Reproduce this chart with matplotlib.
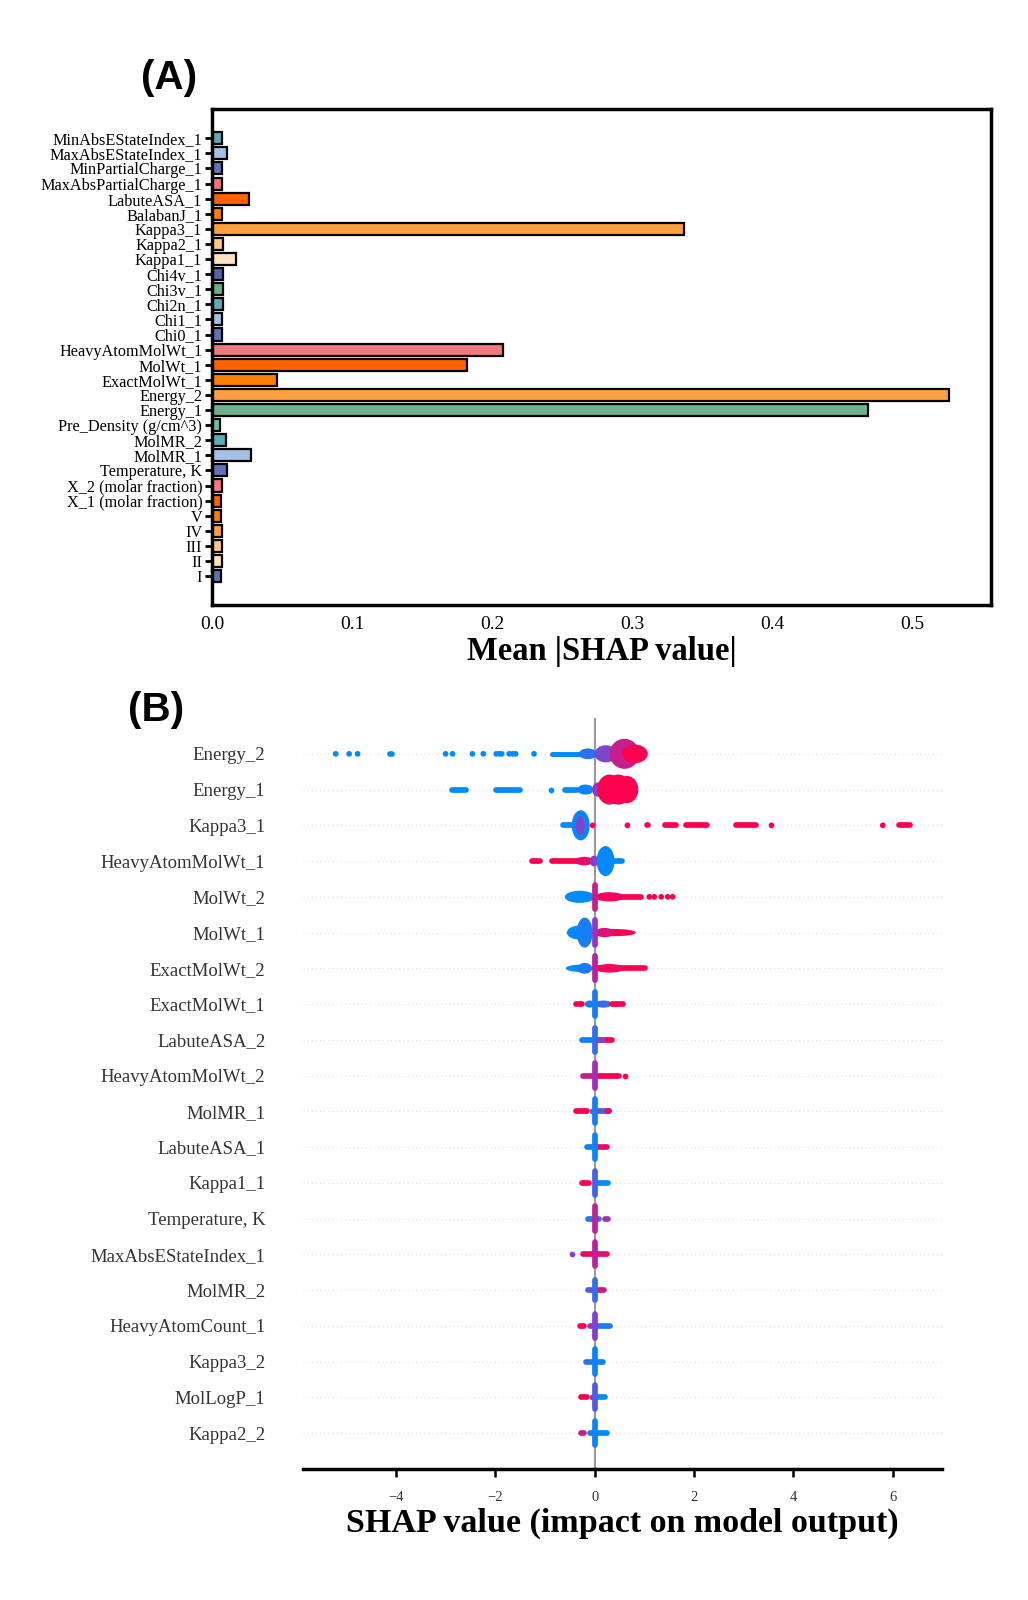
import numpy as np
import matplotlib
matplotlib.use('Agg')
import matplotlib.pyplot as plt
from matplotlib.colors import LinearSegmentedColormap
from matplotlib.patches import Ellipse

plt.rcParams['font.family'] = ['Liberation Serif', 'DejaVu Serif']

# ---- panel A : mean |SHAP| per feature (top to bottom) ----
bar_features = ["MinAbsEStateIndex_1", "MaxAbsEStateIndex_1", "MinPartialCharge_1",
                "MaxAbsPartialCharge_1", "LabuteASA_1", "BalabanJ_1", "Kappa3_1",
                "Kappa2_1", "Kappa1_1", "Chi4v_1", "Chi3v_1", "Chi2n_1", "Chi1_1",
                "Chi0_1", "HeavyAtomMolWt_1", "MolWt_1", "ExactMolWt_1", "Energy_2",
                "Energy_1", "Pre_Density (g/cm^3)", "MolMR_2", "MolMR_1",
                "Temperature, K", "X_2 (molar fraction)", "X_1 (molar fraction)",
                "V", "IV", "III", "II", "I"]
bar_values = [0.0069, 0.011, 0.0069, 0.0073, 0.0266, 0.0069, 0.337, 0.0076, 0.0175,
              0.0076, 0.008, 0.008, 0.0073, 0.0073, 0.2076, 0.1817, 0.0466, 0.526,
              0.468, 0.006, 0.0102, 0.0279, 0.011, 0.0071, 0.0067, 0.0067, 0.0074,
              0.0074, 0.0071, 0.0067]
bar_colors = ["#5eaab8", "#a3c1e3", "#6272b8", "#f07a80", "#ff6200", "#ff8000",
              "#ffa040", "#ffc68c", "#ffe0c0", "#5562aa", "#65b088", "#5eaab8",
              "#a3c1e3", "#6272b8", "#f07a80", "#ff6200", "#ff8000", "#ffa040",
              "#6db38f", "#66c2a5", "#5eaab8", "#a3c1e3", "#6272b8", "#f07a80",
              "#ff6200", "#ff8000", "#ffa040", "#ffc68c", "#ffe0c0", "#6272b8"]

# ---- panel B : beeswarm summary (top to bottom) ----
swarm_features = ["Energy_2", "Energy_1", "Kappa3_1", "HeavyAtomMolWt_1", "MolWt_2",
                  "MolWt_1", "ExactMolWt_2", "ExactMolWt_1", "LabuteASA_2",
                  "HeavyAtomMolWt_2", "MolMR_1", "LabuteASA_1", "Kappa1_1",
                  "Temperature, K", "MaxAbsEStateIndex_1", "MolMR_2",
                  "HeavyAtomCount_1", "Kappa3_2", "MolLogP_1", "Kappa2_2"]

# isolated points: (shap value, feature value 0=low 1=high)
swarm_dots = {
    "Energy_2": [(-5.21, 0), (-4.94, 0), (-4.77, 0), (-3.00, 0), (-2.86, 0), (-2.46, 0),
                 (-2.24, 0), (-1.98, 0), (-1.92, 0), (-1.87, 0), (-1.72, 0), (-1.65, 0),
                 (-1.59, 0), (-1.22, 0)],
    "Energy_1": [(-0.87, 0)],
    "Kappa3_1": [(-0.04, 1), (0.66, 1), (3.56, 1), (5.80, 1)],
    "MolWt_2": [(1.10, 1), (1.20, 1), (1.34, 1), (1.47, 1), (1.57, 1)],
    "HeavyAtomMolWt_2": [(0.61, 1)],
    "MaxAbsEStateIndex_1": [(-0.46, 0.5)],
}
# dense runs: (shap from, shap to, half height in rows, feature value)
swarm_runs = {
    "Energy_2": [(-4.18, -4.03, 0.08, 0), (-0.91, -0.22, 0.07, 0), (-0.32, 0.05, 0.15, 0.15),
                 (0.0, 0.45, 0.24, 0.45), (0.30, 0.90, 0.42, 0.75), (0.55, 1.07, 0.26, 1.0)],
    "Energy_1": [(-2.92, -2.53, 0.08, 0), (-2.05, -1.44, 0.08, 0), (-0.65, -0.30, 0.08, 0),
                 (-0.35, -0.02, 0.14, 0.05), (-0.05, 0.18, 0.2, 0.5), (0.05, 0.55, 0.42, 1.0),
                 (0.20, 0.75, 0.42, 1.0), (0.42, 0.88, 0.38, 1.0)],
    "Kappa3_1": [(-0.70, -0.25, 0.08, 0), (-0.46, -0.10, 0.42, 0.05), (-0.38, -0.20, 0.26, 0.45),
                 (1.0, 1.13, 0.08, 1), (1.35, 1.70, 0.08, 1), (1.79, 2.31, 0.08, 1),
                 (2.79, 3.31, 0.08, 1), (6.06, 6.41, 0.08, 1)],
    "HeavyAtomMolWt_1": [(-1.31, -1.04, 0.08, 1), (-0.91, -0.10, 0.08, 1), (-0.40, -0.02, 0.12, 0.9),
                         (-0.10, 0.08, 0.15, 0.5), (0.05, 0.61, 0.08, 0), (0.04, 0.40, 0.42, 0.02)],
    "MolWt_2": [(-0.60, 0.0, 0.17, 0), (0.0, 1.0, 0.08, 1), (0.0, 0.60, 0.13, 0.95)],
    "MolWt_1": [(-0.56, -0.02, 0.20, 0), (-0.36, -0.04, 0.42, 0.08), (0.0, 0.83, 0.10, 1),
                (0.0, 0.40, 0.13, 0.85)],
    "ExactMolWt_2": [(-0.58, -0.02, 0.10, 0), (-0.35, -0.05, 0.15, 0.1), (0.0, 1.07, 0.08, 1),
                     (0.0, 0.60, 0.12, 0.95)],
    "ExactMolWt_1": [(-0.43, -0.20, 0.08, 1), (-0.20, 0.0, 0.10, 0.1), (0.0, 0.35, 0.10, 0.2),
                     (0.30, 0.63, 0.08, 1)],
    "LabuteASA_2": [(-0.32, 0.0, 0.08, 0.05), (0.0, 0.41, 0.08, 0.95), (0.05, 0.20, 0.08, 0.4)],
    "HeavyAtomMolWt_2": [(-0.30, 0.0, 0.08, 0.75), (0.0, 0.55, 0.08, 1)],
    "MolMR_1": [(-0.43, -0.10, 0.08, 1), (-0.10, 0.0, 0.08, 0.4), (0.0, 0.35, 0.08, 0.3),
                (0.20, 0.35, 0.08, 0.9)],
    "LabuteASA_1": [(-0.22, 0.0, 0.08, 0.05), (0.0, 0.31, 0.08, 0.9)],
    "Kappa1_1": [(-0.32, -0.05, 0.08, 1), (0.0, 0.33, 0.08, 0)],
    "Temperature, K": [(-0.32, -0.20, 0.08, 1), (-0.20, 0.0, 0.08, 0.1), (0.0, 0.15, 0.08, 0.3),
                       (0.15, 0.33, 0.08, 0.6)],
    "MaxAbsEStateIndex_1": [(-0.30, 0.0, 0.08, 0.9), (0.0, 0.31, 0.08, 0.85)],
    "MolMR_2": [(-0.19, 0.0, 0.08, 0.3), (0.0, 0.25, 0.08, 0.8)],
    "HeavyAtomCount_1": [(-0.35, -0.15, 0.08, 1), (-0.15, 0.0, 0.08, 0.5), (0.0, 0.37, 0.08, 0.1)],
    "Kappa3_2": [(-0.23, 0.0, 0.08, 0.15), (0.0, 0.22, 0.08, 0.05)],
    "MolLogP_1": [(-0.33, -0.10, 0.08, 1), (-0.10, 0.0, 0.08, 0.5), (0.0, 0.26, 0.08, 0)],
    "Kappa2_2": [(-0.33, -0.15, 0.08, 0.75), (-0.15, 0.0, 0.08, 0.1), (0.0, 0.31, 0.08, 0)],
}
# vertical stacks: (shap value, half height in rows, feature value)
swarm_stacks = {
    "MolWt_2": [(0.0, 0.42, 0.75)],
    "MolWt_1": [(0.0, 0.42, 0.55)],
    "ExactMolWt_2": [(0.0, 0.42, 0.7)],
    "ExactMolWt_1": [(0.0, 0.42, 0.1)],
    "LabuteASA_2": [(0.0, 0.42, 0.2)],
    "HeavyAtomMolWt_2": [(0.0, 0.42, 0.6)],
    "MolMR_1": [(0.0, 0.42, 0.1)],
    "LabuteASA_1": [(0.0, 0.42, 0.05)],
    "Kappa1_1": [(0.0, 0.42, 0.25)],
    "Temperature, K": [(0.0, 0.42, 0.7)],
    "MaxAbsEStateIndex_1": [(0.0, 0.42, 0.7)],
    "MolMR_2": [(0.0, 0.36, 0.2)],
    "HeavyAtomCount_1": [(0.0, 0.42, 0.45)],
    "Kappa3_2": [(0.0, 0.42, 0.05)],
    "MolLogP_1": [(0.0, 0.42, 0.3)],
    "Kappa2_2": [(0.0, 0.42, 0.05)],
}

shap_cmap = LinearSegmentedColormap.from_list("shap_red_blue", ["#008bfb", "#8c3cc8", "#ff0051"])

def col(v):
    return shap_cmap(float(v))

DPI = 100
fig = plt.figure(figsize=(10.28, 16), dpi=DPI)

# ---------------- (A) bar chart ----------------
axA = fig.add_axes([0.2062, 0.622, 0.964 - 0.2062, 0.9319 - 0.622])
pos = np.arange(len(bar_features))[::-1]
axA.barh(pos, bar_values, height=0.8, color=bar_colors, edgecolor='black', linewidth=1.6)
axA.set_yticks(pos)
axA.set_yticklabels(bar_features, fontsize=11.7)
axA.set_xlim(0, 0.556)
axA.set_ylim(-1.9, 30.94)
axA.set_xticks([0.0, 0.1, 0.2, 0.3, 0.4, 0.5])
axA.set_xticklabels(["0.0", "0.1", "0.2", "0.3", "0.4", "0.5"])
for s in axA.spines.values():
    s.set_linewidth(2.5)
axA.tick_params(axis='y', length=5, width=2, pad=2)
axA.tick_params(axis='x', length=0, pad=8, labelsize=14)
axA.set_xlabel("Mean |SHAP value|", fontsize=23.5, fontweight='bold', labelpad=2)

# ---------------- (B) beeswarm ----------------
axB = fig.add_axes([0.2947, 0.082, 0.9163 - 0.2947, 0.5512 - 0.082])
n = len(swarm_features)
axB.set_xlim(-5.87, 6.99)
axB.set_ylim(-1, n)

px_x = axB.bbox.width / (6.99 + 5.87)
px_y = axB.bbox.height / (n + 1)
pt = 72.0 / DPI

for i in range(n):
    axB.axhline(i, color='#cccccc', lw=0.6, dashes=(1, 4), zorder=-1)
axB.axvline(0, color='#999999', lw=1.5, zorder=-1)

dot_r = 0.08
for i, feat in enumerate(swarm_features):
    y = n - 1 - i
    for x0, x1, h, c in swarm_runs.get(feat, []):
        if h > 0.085:
            # dense, tall part of the swarm
            axB.add_patch(Ellipse(((x0 + x1) / 2, y), x1 - x0, 2 * h, color=col(c), lw=0, zorder=2))
            continue
        r_px = h * px_y
        rx = r_px / px_x
        a, b = x0 + rx, x1 - rx
        lw = 2 * r_px * pt
        if b <= a:
            axB.scatter([(x0 + x1) / 2], [y], s=lw ** 2, color=col(c), lw=0, zorder=2)
        else:
            axB.plot([a, b], [y, y], lw=lw, color=col(c), solid_capstyle='round', zorder=2)
    for x, h, c in swarm_stacks.get(feat, []):
        lw = 2 * dot_r * px_y * pt
        axB.plot([x, x], [y - h + dot_r, y + h - dot_r], lw=lw, color=col(c),
                 solid_capstyle='round', zorder=3)
    xs = [d[0] for d in swarm_dots.get(feat, [])]
    cs = [col(d[1]) for d in swarm_dots.get(feat, [])]
    if xs:
        axB.scatter(xs, [y] * len(xs), s=(2 * dot_r * px_y * pt) ** 2, color=cs, lw=0, zorder=3)

axB.set_yticks(range(n))
axB.set_yticklabels(swarm_features[::-1], fontsize=13.5, color='#333333')
axB.tick_params(axis='y', length=0, pad=27)
axB.set_xticks([-4, -2, 0, 2, 4, 6])
axB.tick_params(axis='x', length=6, width=1.8, pad=10, labelsize=10.5, labelcolor='#333333')
for side in ['top', 'right', 'left']:
    axB.spines[side].set_visible(False)
axB.spines['bottom'].set_linewidth(2.5)
axB.set_xlabel("SHAP value (impact on model output)", fontsize=24.5, fontweight='bold', labelpad=3)

fig.text(0.1644, 0.951, "(A)", fontsize=29, fontweight='bold', family='Liberation Sans',
         ha='center', va='center')
fig.text(0.152, 0.556, "(B)", fontsize=29, fontweight='bold', family='Liberation Sans',
         ha='center', va='center')

fig.savefig("out.png", dpi=DPI)
